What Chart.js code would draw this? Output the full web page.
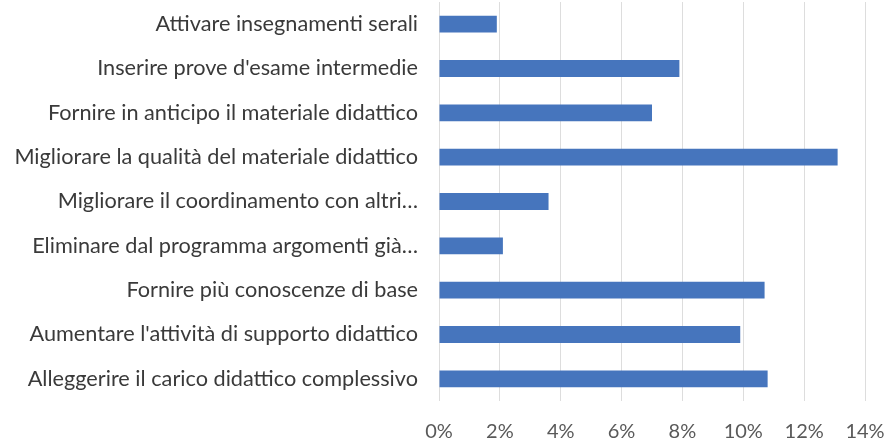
<!DOCTYPE html>
<html>
<head>
<meta charset="utf-8">
<script src="https://cdn.jsdelivr.net/npm/chart.js@4"></script>
<style>
  html, body { margin: 0; padding: 0; background: #fff; }
  #wrap { width: 888px; height: 439px; }
</style>
</head>
<body>
<div id="wrap"><canvas id="chart"></canvas></div>
<script>
// Categories (top to bottom)
const categories = [
  "Attivare insegnamenti serali",
  "Inserire prove d'esame intermedie",
  "Fornire in anticipo il materiale didattico",
  "Migliorare la qualità del materiale didattico",
  "Migliorare il coordinamento con altri…",
  "Eliminare dal programma argomenti già…",
  "Fornire più conoscenze di base",
  "Aumentare l'attività di supporto didattico",
  "Alleggerire il carico didattico complessivo",
];

// Share of answers, percent
const values = [1.9, 7.9, 7.0, 13.1, 3.6, 2.1, 10.7, 9.9, 10.8];

// X axis ticks
const xTicks = [0, 2, 4, 6, 8, 10, 12, 14];

const ctx = document.getElementById("chart").getContext("2d");

new Chart(ctx, {
  type: "bar",
  data: {
    labels: categories,
    datasets: [
      {
        data: values,
        backgroundColor: "#4675BD",
        borderWidth: 0,
        categoryPercentage: 1,
        barPercentage: 0.38,
      },
    ],
  },
  options: {
    indexAxis: "y",
    responsive: true,
    maintainAspectRatio: false,
    animation: false,
    layout: {
      padding: { top: 2, right: 23, bottom: 0, left: 0 },
    },
    plugins: {
      legend: { display: false },
      tooltip: { enabled: false },
    },
    scales: {
      x: {
        min: xTicks[0],
        max: xTicks[xTicks.length - 1],
        afterBuildTicks: (scale) => {
          scale.ticks = xTicks.map((v) => ({ value: v }));
        },
        afterFit: (scale) => {
          scale.height = 38;
          scale.paddingLeft = 0;
          scale.paddingRight = 0;
        },
        border: { display: false },
        grid: {
          color: "#DDDDDD",
          lineWidth: 1,
          drawTicks: false,
        },
        ticks: {
          color: "#595959",
          padding: 19,
          font: { family: "Lato", size: 20 },
          callback: (value) => value + "%",
        },
      },
      y: {
        afterFit: (scale) => {
          scale.width = 439;
          scale.paddingTop = 0;
          scale.paddingBottom = 0;
        },
        border: { display: false },
        grid: { display: false, drawTicks: false },
        ticks: {
          color: "#3A3A3A",
          padding: 21,
          autoSkip: false,
          font: { family: "Lato", size: 21.7 },
        },
      },
    },
  },
});
</script>
</body>
</html>
